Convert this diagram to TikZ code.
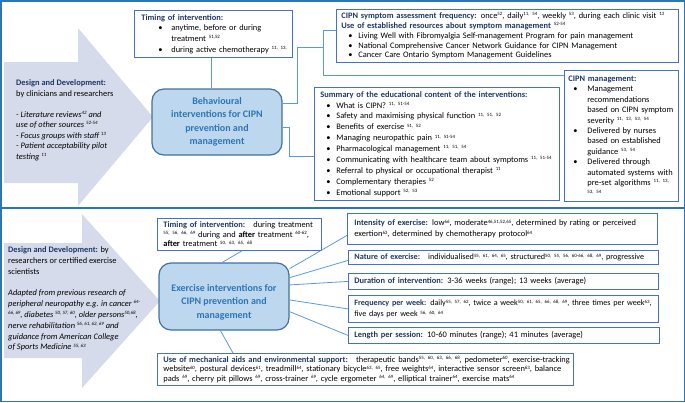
\documentclass[tikz,border=0pt]{standalone}
\usepackage{fontspec}
\setmainfont{Carlito}
\usetikzlibrary{calc}
\definecolor{frameblue}{RGB}{46,117,182}
\definecolor{boxblue}{RGB}{68,114,196}
\definecolor{connblue}{RGB}{91,155,213}
\definecolor{navy}{RGB}{31,56,100}
\definecolor{cfill}{RGB}{189,215,238}
\definecolor{cdraw}{RGB}{65,113,156}
\definecolor{ctext}{RGB}{46,117,182}
\definecolor{arrowfill}{RGB}{214,219,236}
\newcommand\Sp[1]{\raisebox{2.7pt}{\fontsize{4.9}{4.9}\selectfont #1}}
\newcommand\hd[1]{\textbf{\color{navy}#1}}
\newcommand\bl[3]{\hspace*{#1}\makebox[#2][l]{\textbullet}#3}
\newcommand\ML[1]{\mbox{#1}}
\begin{document}
\begin{tikzpicture}[x=1pt,y=-1pt,
  ibox/.style={draw=boxblue, line width=0.8pt, fill=white, anchor=north west, align=left, inner ysep=0pt},
  cbox/.style={draw=cdraw, fill=cfill, rounded corners=12pt, line width=1.2pt, align=center, text=ctext, font={\fontsize{10}{13.5}\selectfont\bfseries}},
  ctxt/.style={align=center, text=ctext, inner sep=0pt, font={\fontsize{10}{13.5}\selectfont\bfseries}},
  atext/.style={anchor=north west, align=left, inner sep=0pt},
  conn/.style={draw=connblue, line width=0.8pt}]
\useasboundingbox (0,0) rectangle (685,402);
% frame
\draw[frameblue, line width=1.5pt] (0.75,0.75) rectangle (684.25,401.25);
\draw[frameblue, line width=1.5pt] (0,208) -- (685,208);
% arrows
\fill[arrowfill] (4,62) -- (78,62) -- (78,28) -- (153,117) -- (78,206) -- (78,183) -- (4,183) -- cycle;
\fill[arrowfill] (4,243) -- (82,243) -- (82,214) -- (160,301) -- (82,388) -- (82,358) -- (4,358) -- cycle;
% upper arrow text
\node[atext, font={\fontsize{8.4}{10.5}\selectfont}] (uad) at (16,79.5) {\hd{Design and Development:}\\ by clinicians and researchers\\[10.5pt] \textit{- Literature reviews\Sp{42} and}\\ \textit{use of other sources \Sp{52-54}}\\ \textit{- Focus groups with staff \Sp{13}}\\ \textit{- Patient acceptability pilot}\\ \textit{testing \Sp{11}}};
% lower arrow text
\node[atext, font={\fontsize{8.4}{10.8}\selectfont}] (lad) at (8,246.5) {\hd{Design and Development:} by\\ researchers or certified exercise\\ scientists\\[10.8pt] \textit{Adapted from previous research of}\\ \textit{peripheral neuropathy e.g. in cancer \Sp{64-}}\\ \textit{\Sp{66, 69}, diabetes \Sp{50, 57, 60}, older persons\Sp{50,68},}\\ \textit{nerve rehabilitation \Sp{56, 61, 62, 69} and}\\ \textit{guidance from American College}\\ \textit{of Sports Medicine \Sp{55, 63}}};
% upper boxes
\node[ibox, inner xsep=7pt, text width=144pt, minimum height=47pt, font={\fontsize{8.4}{10.6}\selectfont}] (utime) at (134,10) {\ML{\hd{Timing of intervention:}}\\ \ML{\bl{17pt}{13pt}{anytime, before or during}}\\ \ML{\hspace*{30pt}treatment \Sp{51,52}}\\ \ML{\bl{17pt}{13pt}{during active chemotherapy \Sp{11, 13,}}}};
\node[cbox, minimum width=130pt, minimum height=66pt] (ubeh) at (217,122) {Behavioural\\interventions for CIPN\\prevention and\\management};
\node[ibox, inner xsep=5pt, text width=332pt, minimum height=53pt, font={\fontsize{8.4}{9.9}\selectfont}] (usym) at (336,9) {\ML{\hd{CIPN symptom assessment frequency:} once\Sp{52}, daily\Sp{11, 54}, weekly \Sp{53}, during each clinic visit \Sp{13}}\\ \ML{\hd{Use of established resources about symptom management} \Sp{52-54}}\\ \ML{\bl{7pt}{10pt}{Living Well with Fibromyalgia Self-management Program for pain management}}\\ \ML{\bl{7pt}{10pt}{National Comprehensive Cancer Network Guidance for CIPN Management}}\\ \ML{\bl{7pt}{10pt}{Cancer Care Ontario Symptom Management Guidelines}}};
\node[ibox, inner xsep=6pt, text width=233pt, minimum height=113pt, font={\fontsize{8.4}{10.9}\selectfont}] (usum) at (314,87) {\ML{\hd{Summary of the educational content of the interventions:}}\\ \ML{\bl{6pt}{10pt}{What is CIPN? \Sp{11, 51-54}}}\\ \ML{\bl{6pt}{10pt}{Safety and maximising physical function \Sp{11, 51, 52}}}\\ \ML{\bl{6pt}{10pt}{Benefits of exercise \Sp{51, 52}}}\\ \ML{\bl{6pt}{10pt}{Managing neuropathic pain \Sp{11, 51-54}}}\\ \ML{\bl{6pt}{10pt}{Pharmacological management \Sp{11, 51, 54}}}\\ \ML{\bl{6pt}{10pt}{Communicating with healthcare team about symptoms \Sp{11, 51-54}}}\\ \ML{\bl{6pt}{10pt}{Referral to physical or occupational therapist \Sp{11}}}\\ \ML{\bl{6pt}{10pt}{Complementary therapies \Sp{52}}}\\ \ML{\bl{6pt}{10pt}{Emotional support \Sp{52, 53}}}};
\node[ibox, inner xsep=4pt, text width=106pt, minimum height=131pt, font={\fontsize{8.4}{10.4}\selectfont}] (umgmt) at (564,70) {\ML{\hd{CIPN management:}}\\ \ML{\bl{5pt}{14pt}{Management}}\\ \ML{\hspace*{19pt}recommendations}\\ \ML{\hspace*{19pt}based on CIPN symptom}\\ \ML{\hspace*{19pt}severity \Sp{11, 13, 53, 54}}\\ \ML{\bl{5pt}{14pt}{Delivered by nurses}}\\ \ML{\hspace*{19pt}based on established}\\ \ML{\hspace*{19pt}guidance \Sp{53, 54}}\\ \ML{\bl{5pt}{14pt}{Delivered through}}\\ \ML{\hspace*{19pt}automated systems with}\\ \ML{\hspace*{19pt}pre-set algorithms \Sp{11, 13,}}\\ \ML{\hspace*{19pt}\Sp{53, 54}}};
% lower boxes
\node[ibox, inner xsep=6pt, text width=152pt, minimum height=32pt, font={\fontsize{8.4}{9.6}\selectfont}] (ltime) at (157,218) {\ML{\hd{Timing of intervention:}\hspace{4pt} during treatment}\\ \ML{\Sp{55, 56, 66, 69} during and \textbf{after} treatment \Sp{60-62},}\\ \ML{\textbf{after} treatment \Sp{50, 63, 65, 68}}};
\node[cbox, minimum width=130pt, minimum height=67pt] (lbeh) at (224,296.5) {};
\node[ctxt] (lbehtxt) at (224,302) {Exercise interventions for\\CIPN prevention and\\management};
\node[ibox, inner xsep=7pt, text width=296pt, minimum height=31pt, font={\fontsize{8.4}{11}\selectfont}] (lint) at (347,213) {\ML{\hd{Intensity of exercise:} low\Sp{66}, moderate\Sp{46,51,52,65}, determined by rating or perceived}\\ \ML{exertion\Sp{63}, determined by chemotherapy protocol\Sp{64}}};
\node[ibox, inner xsep=6pt, text width=298pt, minimum height=14pt, font={\fontsize{8.2}{10}\selectfont}] (lnat) at (348,250) {\ML{\hd{Nature of exercise:}\hspace{4pt} individualised\Sp{55, 61, 64, 65}, structured\Sp{50, 55, 56, 60-66, 68, 69}, progressive}};
\node[ibox, inner xsep=6pt, text width=298pt, minimum height=16pt, font={\fontsize{8.4}{10}\selectfont}] (ldur) at (348,273) {\ML{\hd{Duration of intervention:} 3-36 weeks (range); 13 weeks (average)}};
\node[ibox, inner xsep=6pt, text width=298pt, minimum height=27pt, font={\fontsize{8.1}{11}\selectfont}] (lfreq) at (348,295) {\ML{\hd{Frequency per week:} daily\Sp{55, 57, 62}, twice a week\Sp{50, 61, 65, 66, 68, 69}, three times per week\Sp{63},}\\ \ML{five days per week \Sp{56, 60, 64}}};
\node[ibox, inner xsep=6pt, text width=299pt, minimum height=16pt, font={\fontsize{8.4}{10}\selectfont}] (llen) at (348,327) {\ML{\hd{Length per session:} 10-60 minutes (range); 41 minutes (average)}};
\node[ibox, inner xsep=6pt, text width=404pt, minimum height=32pt, font={\fontsize{8.4}{9.7}\selectfont}] (lmech) at (157,353) {\ML{\hd{Use of mechanical aids and environmental support:}\hspace{4pt} therapeutic bands\Sp{55, 60, 63, 66, 68}, pedometer\Sp{60}, exercise-tracking}\\ \ML{website\Sp{60}, postural devices\Sp{61}, treadmill\Sp{64}, stationary bicycle\Sp{63, 65}, free weights\Sp{64}, interactive sensor screen\Sp{63}, balance}\\ \ML{pads \Sp{69}, cherry pit pillows \Sp{69}, cross-trainer \Sp{69}, cycle ergometer \Sp{64, 69}, elliptical trainer\Sp{64}, exercise mats\Sp{64}}};
% connectors upper
\coordinate (x211) at (211,0);
\coordinate (ja) at (297,47);
\coordinate (jb) at (323,47);
\coordinate (yA) at (0,103);
\coordinate (yB) at (0,127);
\coordinate (yS) at (0,30);
\coordinate (yM) at (0,75);
\coordinate (xC) at (289,156);
\draw[conn] (utime.south -| x211) -- (ubeh.north -| x211);
\draw[conn] (ubeh.east |- yA) -| (ja) -- (jb) |- (usym.west |- yS);
\draw[conn] (jb) |- (umgmt.west |- yM);
\draw[conn] (ubeh.east |- yB) -| (xC) -- (usum.west |- xC);
% connectors lower
\draw[conn] (lbeh.23.7) -- ($(lint.west)+(0,6.5)$);
\draw[conn] (lbeh.16.7) -- ($(lnat.west)+(0,3)$);
\draw[conn] (lbeh.10) -- (ldur.west);
\draw[conn] (lbeh.-3) -- (lfreq.west);
\draw[conn] (lbeh.-13.4) -- (llen.west);
\draw[conn] (lbeh.-96.8) -- ($(lmech.north west)+(76,0)$);
\draw[conn] (lbeh.93.4) -- ($(ltime.south west)+(85,0)$);
\end{tikzpicture}
\end{document}
